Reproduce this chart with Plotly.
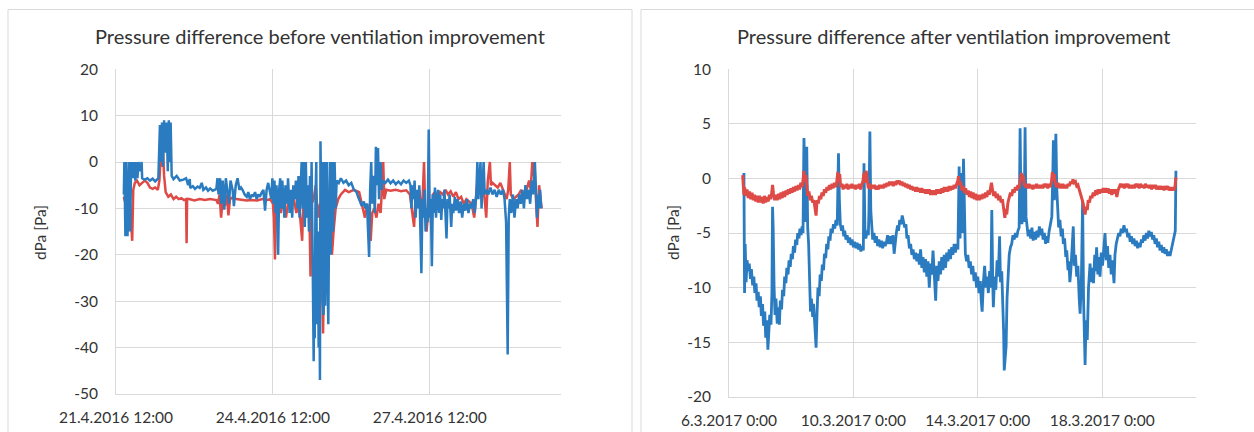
import pandas as pd
import plotly.graph_objects as go

# ---------------- data (days since start of each record, pressure difference in Pa) -------------
left_start = "2016-04-21 12:00"
right_start = "2017-03-06 00:00"

left_blue = [[0.15,-7],[0.16,0],[0.18,-16],[0.20,0],[0.22,-16],[0.24,-5],[0.255,0],[0.27,-15],[0.29,0],[0.32,-3.5],[0.34,0],[0.37,-4],[0.38,0],[0.41,-3.5],[0.43,0],[0.46,-2],[0.49,0],[0.50,-3.5],[0.55,-3.8],[0.60,-3.5],[0.65,-4.0],[0.70,-3.6],[0.75,-4.2],[0.81,-3.5],[0.84,8],[0.86,0],[0.88,8.5],[0.90,-1],[0.92,9],[0.94,2],[0.97,8.5],[0.99,-2],[1.01,9],[1.03,0],[1.045,8.5],[1.065,-3],[1.10,-3.7],[1.16,-3],[1.22,-4],[1.29,-3.8],[1.34,-3.5],[1.38,-5],[1.41,-3.7],[1.42,-5.6],[1.47,-5.2],[1.51,-5.8],[1.56,-5.3],[1.60,-5.6],[1.64,-4.5],[1.67,-6],[1.72,-5.5],[1.76,-6.2],[1.80,-5.7],[1.85,-6.2],[1.92,-5.8],[1.94,-3.5],[1.96,-7],[1.99,-3.5],[2.01,-9],[2.04,-4],[2.07,-10.3],[2.10,-3.5],[2.13,-7],[2.16,-9],[2.19,-4],[2.23,-6],[2.255,-9.5],[2.29,-5],[2.325,-3.5],[2.36,-6],[2.39,-5.5],[2.42,-6],[2.46,-7],[2.50,-7.5],[2.53,-6.5],[2.56,-8],[2.60,-7],[2.62,-7.5],[2.66,-6.5],[2.69,-8],[2.72,-7],[2.75,-7.5],[2.79,-6.5],[2.82,-6],[2.85,-10.5],[2.88,-6],[2.91,-4.5],[2.94,-6],
    [2.97,-8],[2.99,-3.5],[3.01,-9],[3.03,-4],[3.05,-11],[3.07,-5],[3.10,-20],[3.12,-6],[3.14,-3.5],[3.16,-10],[3.18,-4],[3.20,-8],[3.22,-12],[3.24,-5],[3.27,-9],[3.29,-3.5],[3.32,-11],[3.34,-6],[3.37,-12],[3.39,-5],[3.42,-8],[3.44,-4],[3.47,-10],[3.49,-3],[3.51,-12],[3.53,-6],[3.55,0],[3.57,-10],[3.59,0],[3.61,-14],[3.63,0],[3.65,-12],[3.67,-5],[3.69,-15],[3.71,-3],
    [3.73,-12],[3.74,0],[3.76,-20],[3.78,-43],[3.79,-30],[3.80,-38],[3.815,-8],[3.83,0],[3.845,-35],[3.86,-15],[3.875,-40],[3.885,-20],[3.90,-47],[3.91,4.5],[3.925,-10],[3.94,0],[3.955,-30],[3.97,-33],[3.985,0],[4.00,-31],[4.015,-8],[4.03,0],[4.045,-25],[4.06,-35],[4.075,-12],[4.09,0],[4.105,-20],[4.12,-8],[4.135,0],[4.15,-15],[4.165,-6],[4.18,0],[4.20,-10],[4.22,-4],
    [4.26,-4.5],[4.30,-3.5],[4.35,-4.5],[4.40,-4],[4.45,-5],[4.50,-4.5],[4.55,-6],[4.60,-6.5],[4.63,-7.5],[4.67,-8.5],[4.70,-9.5],[4.74,-8.5],[4.77,-10],[4.80,-9],[4.84,-20.5],[4.86,-6],[4.88,0],[4.90,-9],[4.92,-3],[4.95,-11],[4.97,3.3],[4.99,-5],[5.01,3],[5.03,-8],[5.06,0],[5.08,-6],[5.10,-4],[5.15,-4.5],[5.20,-3.8],[5.25,-4.6],[5.30,-4],[5.35,-4.8],[5.40,-4.2],[5.45,-4.8],[5.50,-4],[5.55,-4.5],[5.60,-4],[5.63,-5],
    [5.65,-10],[5.67,-5],[5.69,-8],[5.71,-4],[5.73,-12],[5.75,-6],[5.78,-10],[5.80,-5],[5.82,-13],[5.84,-24],[5.86,-8],[5.88,-12],[5.90,-6],[5.92,-15],[5.94,-10],[5.96,-13],[5.98,7],[6.00,-12],[6.02,-8],[6.04,-22.5],[6.06,-7],[6.08,-11],[6.10,-5.5],[6.12,-12],[6.14,-8],[6.16,-6],[6.18,-11],[6.20,-7],[6.22,-12.5],[6.24,-8],[6.26,-10],[6.28,-6],[6.30,-11],[6.32,-16.5],[6.34,-8],[6.36,-10],[6.38,-7],[6.41,-14],[6.43,-9],[6.45,-11],[6.48,-7.5],[6.50,-10.5],[6.53,-8],[6.56,-11],[6.59,-8.5],[6.62,-12],[6.65,-9],[6.68,-10.5],[6.71,-8],[6.74,-11],[6.77,-9],[6.80,-10],[6.83,-8],[6.86,-11],[6.89,-7],[6.91,0],[6.93,-8],[6.95,-3],[6.97,0],[6.99,-10],[7.01,-4],[7.03,0],[7.05,-7],[7.08,-6],[7.12,-7],[7.16,-5.5],[7.20,-7],[7.24,-6],[7.28,-7.5],[7.32,-6],[7.36,-7],[7.40,-6],[7.43,-8],[7.46,-13],[7.49,-41.5],[7.51,-12],[7.53,-8],[7.56,-11],[7.59,-7],[7.62,-12],[7.65,-8],[7.68,-10],[7.71,-7],[7.74,-9],[7.77,-6],[7.80,-10],[7.83,-5],[7.86,-8],[7.89,-6],[7.92,-9],[7.95,-4],[7.98,-7],[8.01,0],[8.03,-6],[8.05,-12],[8.07,-7],[8.09,-10],[8.11,-6],[8.13,-10]]

left_red = [[0.15,-7.5],[0.17,-8.5],[0.20,-6],[0.23,-10],[0.26,-8],[0.29,-13],[0.31,-17],[0.33,-6],[0.36,-4.5],[0.40,-4],[0.45,-5],[0.50,-4.5],[0.55,-4],[0.60,-4.5],[0.65,-5.5],[0.70,-5.8],[0.75,-5.5],[0.80,-6],[0.83,-4],[0.86,2.3],[0.88,-1],[0.90,2],[0.92,-3],[0.95,-6.5],[1.00,-7.5],[1.05,-7],[1.10,-8],[1.15,-7.5],[1.20,-8],[1.25,-7.8],[1.30,-8.2],[1.34,-8],[1.35,-17.5],[1.36,-8],[1.40,-8],[1.50,-8.3],[1.60,-8],[1.70,-8.2],[1.80,-8],[1.92,-8.2],[1.95,-9],[1.98,-7],[2.01,-12],[2.04,-8],[2.08,-9.5],[2.12,-7],[2.15,-11.5],[2.18,-8],[2.25,-7.5],[2.30,-8],[2.40,-8.2],[2.50,-8.3],[2.60,-8.2],[2.70,-8.3],[2.80,-8],[2.90,-8.2],
    [2.95,-8],[3.00,-9],[3.02,-12],[3.04,-21],[3.06,-9],[3.10,-8],[3.15,-11],[3.20,-8],[3.25,-12],[3.30,-8],[3.35,-10],[3.40,-8],[3.45,-11],[3.50,-9],[3.53,-13],[3.56,-17],[3.58,-9],[3.62,-12],[3.66,-8],[3.70,-12],[3.72,-24.7],[3.74,-9],[3.78,-8],[3.82,-5],[3.86,-12],[3.90,-9],[3.94,-25],[3.96,-37],[3.98,-20],[4.00,-8],[4.03,-3],[4.06,-12],[4.10,-8],[4.13,-20],[4.16,-15],[4.20,-10],[4.25,-8],[4.30,-7],[4.38,-6],[4.45,-6.5],[4.55,-6],[4.65,-6.5],[4.72,-10],[4.76,-12],[4.80,-9],[4.84,-11],[4.87,-17],[4.90,-11],[4.94,-10],[4.98,-12],[5.02,-9],[5.06,-11],[5.09,-5],[5.11,0],[5.13,-8],[5.17,-6],[5.25,-6.2],[5.35,-6],[5.45,-6.3],[5.55,-6.1],[5.62,-7],[5.66,-10],[5.70,-14],[5.73,-7],[5.77,-9],[5.80,-6],[5.84,-12],[5.87,-6],[5.89,0],[5.91,-9],[5.94,-15],[5.97,-10],[6.00,-8],[6.03,-14],[6.06,-7],[6.10,-6.5],[6.15,-8],[6.20,-6.5],[6.25,-7],[6.30,-6],[6.35,-7],[6.40,-6.3],[6.45,-7.5],[6.50,-6.5],[6.55,-8],[6.60,-7.5],[6.65,-9],[6.70,-8],[6.75,-8.5],[6.80,-9],[6.85,-12],[6.88,-8],[6.92,-3],[6.95,-5],[7.00,-3.5],[7.05,-8],[7.08,-12],[7.11,-4],[7.15,0],[7.17,-5],[7.20,-4.5],[7.25,-5],[7.30,-5.5],[7.35,-4.5],[7.40,-6],[7.44,-7],[7.47,-8],[7.50,-6],[7.53,0],[7.55,-7],[7.60,-8],[7.65,-7.5],[7.70,-7],[7.75,-6],[7.80,-7.5],[7.85,-6],[7.90,-4],[7.93,-6],[7.96,0],[7.98,-3],[8.00,0],[8.03,-8],[8.06,-14],[8.09,-5],[8.12,-8],[8.14,-10]]

right_blue = [[0.47,-1],[0.48,0.5],[0.50,-10.5],[0.52,-6],[0.55,-9.5],[0.58,-7.5],[0.62,-8.5],[0.65,-7.8],[0.69,-9.2],[0.72,-8.3],[0.76,-9.8],[0.80,-9.0],[0.83,-10.5],[0.87,-9.6],[0.90,-11.2],[0.94,-10.4],[0.97,-11.8],[1.01,-10.8],[1.04,-12.6],[1.08,-11.5],[1.11,-13.5],[1.15,-12.2],[1.18,-14.6],[1.22,-13.0],[1.25,-15.7],[1.28,-13.5],[1.31,-12.5],[1.35,-13.4],[1.38,-10.5],[1.40,-2.6],[1.42,-4.5],[1.45,-10],[1.48,-12.5],[1.51,-11],[1.55,-13.3],[1.58,-11.8],[1.62,-13.4],[1.65,-11.2],[1.69,-12],[1.72,-10.2],[1.76,-10.8],[1.79,-9.0],[1.83,-9.6],[1.86,-8.2],[1.90,-8.8],[1.93,-7.5],[1.97,-8.1],[2.00,-6.9],[2.04,-7.4],[2.07,-6.2],[2.11,-6.8],[2.14,-5.6],[2.18,-6.1],[2.21,-5.0],[2.25,-5.5],[2.28,-4.6],[2.32,-5.2],[2.35,-4.4],[2.38,-5.0],[2.41,3.7],[2.44,-2],[2.47,-4],[2.50,2.9],[2.53,-4.5],[2.56,-6],[2.59,-10],[2.62,-12.2],[2.65,-11],[2.69,-12.7],[2.72,-11.5],[2.76,-13.5],[2.80,-15.5],[2.83,-12.5],[2.86,-10],[2.90,-10.8],[2.93,-8.8],[2.97,-9.4],[3.00,-7.9],[3.04,-8.4],[3.07,-6.9],[3.11,-7.3],[3.14,-6.0],[3.18,-6.5],[3.21,-5.3],[3.25,-5.7],[3.28,-4.6],[3.32,-5.0],[3.36,-4.2],[3.40,-4.6],[3.44,-3.8],[3.48,-4.3],[3.52,2.3],[3.55,-2],[3.58,-4.2],[3.62,-4.8],[3.65,-4.3],[3.69,-5.3],[3.72,-4.8],[3.76,-5.6],[3.80,-5.2],[3.84,-5.9],[3.88,-5.4],[3.92,-6.1],[3.96,-5.6],[4.00,-6.3],[4.04,-5.8],[4.08,-6.4],[4.12,-5.9],[4.16,-6.5],[4.20,-6.0],[4.24,-6.7],[4.28,-6.2],[4.32,-6.6],[4.34,1.4],[4.37,-4.5],[4.40,-5.5],[4.44,-4.8],[4.48,-5.2],[4.50,-3],[4.53,4.3],[4.56,-3],[4.59,-4.4],[4.62,-5.6],[4.66,-5.0],[4.70,-5.9],[4.74,-5.3],[4.78,-6.2],[4.82,-5.6],[4.86,-6.3],[4.90,-5.7],[4.94,-6.4],[4.98,-5.8],[5.02,-6.2],
    [5.06,-5.9],[5.10,-5.2],[5.14,-6.0],[5.18,-5.3],[5.23,-6.0],[5.27,-5.2],[5.31,-6.9],[5.34,-5.8],[5.38,-5.0],[5.42,-4.3],[5.45,-4.8],[5.49,-3.8],[5.53,-4.2],[5.57,-3.4],[5.61,-3.9],[5.65,-4.5],[5.69,-4.2],[5.72,-5.5],[5.76,-5.2],[5.80,-6.4],[5.84,-6.0],[5.88,-7.0],[5.92,-6.5],[5.96,-7.4],[6.00,-6.8],[6.04,-7.6],[6.08,-6.9],[6.12,-7.9],[6.16,-6.5],[6.20,-8.2],[6.24,-7.2],[6.28,-8.6],[6.32,-7.4],[6.36,-9.0],[6.40,-7.6],[6.44,-10.0],[6.48,-7.8],[6.52,-8.8],[6.56,-6.6],[6.60,-9.0],[6.645,-11.2],[6.68,-8.0],[6.72,-9.4],[6.76,-7.6],[6.80,-8.8],[6.84,-7.2],[6.88,-8.4],[6.92,-7.0],[6.96,-8.2],[7.00,-6.8],[7.04,-7.6],[7.08,-6.5],[7.12,-7.4],[7.16,-6.3],[7.20,-7.0],[7.24,-6.0],[7.28,-6.8],[7.32,-6.0],[7.36,-6.5],[7.40,1.1],[7.43,-5.5],[7.46,0.5],[7.50,-5],[7.54,1.8],[7.57,-5.5],[7.60,-6.9],[7.64,-7.6],[7.68,-7.0],[7.72,-8.2],[7.76,-7.6],[7.80,-8.8],[7.84,-8.0],[7.88,-9.4],[7.92,-8.6],[7.96,-10.0],[8.00,-9.0],[8.04,-10.5],[8.08,-9.4],[8.11,-11.2],[8.14,-12.2],[8.18,-9.5],[8.22,-8.0],[8.26,-10.0],[8.30,-9.0],[8.34,-10.5],[8.38,-8.5],[8.42,-10.0],[8.45,-2.9],[8.48,-9.5],[8.50,-11.8],[8.54,-9.0],[8.58,-10.2],[8.62,-7.5],[8.66,-9.0],[8.70,-5.3],[8.73,-9.5],[8.77,-8.5],[8.80,-10.5],[8.83,-14],[8.85,-17.6],[8.88,-16.5],[8.91,-15.4],[8.94,-11],[8.97,-8.5],[9.01,-7.0],[9.05,-6.3],[9.09,-6.0],[9.13,-5.2],[9.17,-5.6],[9.21,-5.0],[9.25,-5.4],[9.29,-4.8],[9.33,-4.5],[9.36,4.6],[9.39,-3],[9.42,-4.2],[9.46,0],[9.49,-4],[9.52,4.7],[9.55,-3.5],[9.58,-4.6],[9.62,-5.3],[9.66,-4.7],[9.70,-5.5],[9.74,-4.5],[9.78,-5.7],[9.82,-4.9],[9.86,-5.6],[9.90,-4.8],[9.94,-5.4],[9.98,-4.4],[10.02,-5.2],
    [10.06,-4.6],[10.10,-5.6],[10.14,-5.0],[10.18,-6.0],[10.21,-5.3],[10.25,-5.9],[10.29,-4.9],[10.34,-4.1],[10.38,-3.5],[10.41,0],[10.43,3.5],[10.46,-2],[10.49,1],[10.51,4.1],[10.54,-1],[10.56,-2.6],[10.60,-4.5],[10.64,-3.8],[10.68,-5.3],[10.72,-4.6],[10.75,-6.0],[10.79,-5.5],[10.83,-7.2],[10.86,-6.6],[10.90,-8.4],[10.93,-7.6],[10.96,-9.5],[10.99,-8.5],[11.03,-6.5],[11.07,-4.4],[11.10,-8.0],[11.14,-7.0],[11.18,-9.0],[11.22,-8.0],[11.26,-11.0],[11.29,-12.4],[11.33,-9.5],[11.37,-2.0],[11.40,-11.0],[11.43,-15.5],[11.45,-17.1],[11.48,-13.0],[11.52,-14.8],[11.56,-10.0],[11.61,-7.8],[11.64,-9.5],[11.68,-8.2],[11.72,-9.6],[11.76,-7.0],[11.79,-8.5],[11.82,-6.3],[11.86,-8.8],[11.90,-7.2],[11.93,-9.0],[11.97,-6.8],[12.01,-8.0],[12.05,-6.5],[12.09,-5.0],[12.13,-7.5],[12.17,-6.2],[12.21,-8.2],[12.25,-7.0],[12.29,-8.8],[12.33,-7.5],[12.38,-9.6],[12.41,-7.0],[12.45,-6.0],[12.49,-5.6],[12.53,-5.0],[12.57,-5.3],[12.61,-4.6],[12.65,-5.0],[12.70,-4.3],[12.74,-4.9],[12.78,-4.6],[12.82,-5.4],[12.86,-5.0],[12.90,-5.8],[12.94,-5.3],[12.98,-6.0],[13.02,-5.5],[13.06,-6.2],[13.10,-5.7],[13.14,-6.4],[13.18,-5.9],[13.22,-6.3],[13.26,-5.6],[13.30,-5.9],[13.34,-5.2],[13.38,-5.7],[13.42,-5.0],[13.46,-5.5],[13.50,-4.8],[13.54,-5.3],[13.58,-4.9],[13.62,-5.6],[13.66,-5.2],[13.70,-6.0],[13.74,-5.5],[13.78,-6.3],[13.82,-5.8],[13.86,-6.6],[13.90,-6.1],[13.94,-6.8],[13.98,-6.3],[14.02,-6.9],[14.06,-6.5],[14.10,-7.1],[14.14,-6.7],[14.18,-7.1],[14.22,-6.6],[14.26,-6.2],[14.29,-5.8],[14.32,-5.4],[14.35,-4.8],[14.37,0.7]]

right_red = [[0.44,0.3],[0.46,-0.5],[0.48,-1.5],[0.50,-0.8],[0.54,-1.6],[0.58,-1.0],[0.62,-1.8],[0.66,-1.2],[0.70,-1.9],[0.74,-1.3],[0.78,-2.0],[0.82,-1.5],[0.86,-2.1],[0.90,-1.6],[0.94,-2.2],[0.98,-1.6],[1.02,-2.2],[1.06,-1.7],[1.10,-2.3],[1.14,-1.6],[1.18,-2.2],[1.22,-1.7],[1.26,-2.1],[1.30,-1.5],[1.34,-1.9],[1.38,-1.2],[1.40,-0.6],[1.43,-1.4],[1.47,-2.0],[1.51,-1.5],[1.55,-2.0],[1.59,-1.4],[1.63,-1.9],[1.67,-1.3],[1.71,-1.8],[1.75,-1.2],[1.79,-1.7],[1.83,-1.1],[1.87,-1.5],[1.91,-1.0],[1.95,-1.4],[1.99,-0.9],[2.03,-1.3],[2.07,-0.8],[2.11,-1.2],[2.15,-0.7],[2.19,-1.1],[2.23,-0.6],[2.27,-1.0],[2.31,-0.4],[2.35,-0.8],[2.38,-0.2],[2.41,0.7],[2.44,-0.3],[2.47,0.3],[2.50,-0.6],[2.53,-1.6],[2.57,-1.2],[2.61,-2.0],[2.65,-1.6],[2.69,-2.2],[2.73,-2.0],[2.77,-2.6],[2.80,-3.4],[2.83,-2.0],[2.87,-2.3],[2.91,-1.6],[2.95,-1.9],[2.99,-1.3],[3.03,-1.6],[3.07,-1.0],[3.11,-1.3],[3.15,-0.8],[3.19,-1.1],[3.23,-0.6],[3.27,-1.0],[3.31,-0.5],[3.35,-0.9],[3.39,-0.4],[3.43,-0.8],[3.47,-0.2],[3.50,0.6],[3.53,-0.3],[3.56,0.4],[3.59,-0.8],[3.63,-0.5],[3.67,-1.0],[3.71,-0.6],[3.75,-0.9],[3.79,-0.5],[3.83,-1.0],[3.87,-0.6],[3.91,-0.9],[3.95,-0.5],[3.99,-0.9],[4.03,-0.6],[4.07,-1.0],[4.11,-0.6],[4.15,-0.9],[4.19,-0.5],[4.23,-1.0],[4.27,-0.6],[4.31,-0.2],[4.34,0.5],[4.37,-0.4],[4.41,0.7],[4.44,-0.2],[4.48,-0.9],[4.52,-0.5],[4.56,-1.0],[4.60,-0.6],[4.64,-0.9],[4.68,-0.6],[4.72,-1.0],[4.76,-0.7],[4.80,-1.0],[4.84,-0.6],[4.88,-0.9],[4.92,-0.6],[4.96,-0.9],[5.00,-0.5],
    [5.04,-0.8],[5.08,-0.4],[5.12,-0.7],[5.16,-0.3],[5.20,-0.6],[5.24,-0.3],[5.28,-0.7],[5.32,-0.3],[5.36,-0.6],[5.40,-0.2],[5.44,-0.5],[5.48,-0.2],[5.52,-0.6],[5.56,-0.3],[5.60,-0.7],[5.64,-0.4],[5.68,-0.8],[5.72,-0.5],[5.76,-0.9],[5.80,-0.6],[5.84,-1.0],[5.88,-0.7],[5.92,-1.1],[5.96,-0.8],[6.00,-1.2],[6.04,-0.8],[6.08,-1.2],[6.12,-0.9],[6.16,-1.3],[6.20,-0.9],[6.24,-1.3],[6.28,-1.0],[6.32,-1.4],[6.36,-1.0],[6.40,-1.4],[6.44,-1.0],[6.48,-1.5],[6.52,-1.1],[6.56,-1.5],[6.60,-1.1],[6.64,-1.5],[6.68,-1.0],[6.72,-1.4],[6.76,-1.0],[6.80,-1.4],[6.84,-0.9],[6.88,-1.3],[6.92,-0.8],[6.96,-1.2],[7.00,-0.8],[7.04,-1.2],[7.08,-0.7],[7.12,-1.1],[7.16,-0.7],[7.20,-1.0],[7.24,-0.6],[7.28,-0.9],[7.32,-0.5],[7.36,-0.2],[7.38,0.2],[7.41,-0.6],[7.45,-0.3],[7.49,-1.1],[7.53,-0.7],[7.57,-1.3],[7.61,-0.9],[7.65,-1.5],[7.69,-1.1],[7.73,-1.7],[7.77,-1.2],[7.81,-1.8],[7.85,-1.3],[7.89,-1.9],[7.93,-1.4],[7.97,-2.0],[8.01,-1.5],[8.05,-2.0],[8.09,-1.5],[8.13,-1.9],[8.17,-1.4],[8.21,-1.8],[8.25,-1.3],[8.29,-1.7],[8.33,-1.1],[8.37,-1.5],[8.41,-0.9],[8.44,-0.4],[8.47,-1.0],[8.51,-1.6],[8.55,-1.2],[8.59,-1.8],[8.63,-1.4],[8.67,-2.0],[8.71,-1.6],[8.75,-2.2],[8.79,-1.9],[8.83,-2.6],[8.87,-3.6],[8.90,-2.8],[8.93,-3.3],[8.97,-2.2],[9.01,-1.8],[9.05,-1.3],[9.09,-1.6],[9.13,-1.0],[9.17,-1.3],[9.21,-0.8],[9.25,-1.1],[9.29,-0.6],[9.33,-0.9],[9.37,-0.3],[9.40,0.5],[9.43,-0.2],[9.46,0.3],[9.49,-0.5],[9.53,-0.8],[9.57,-0.5],[9.61,-0.9],[9.65,-0.5],[9.69,-0.9],[9.73,-0.6],[9.77,-1.0],[9.81,-0.6],[9.85,-0.9],[9.89,-0.5],[9.93,-0.9],[9.97,-0.6],[10.01,-0.9],
    [10.05,-0.6],[10.09,-0.9],[10.13,-0.5],[10.17,-0.8],[10.21,-0.5],[10.25,-0.9],[10.29,-0.5],[10.33,-0.8],[10.37,-0.3],[10.40,0.6],[10.43,-0.2],[10.46,0.4],[10.50,-0.5],[10.54,-0.8],[10.58,-0.4],[10.62,-0.9],[10.66,-0.5],[10.70,-0.9],[10.74,-0.5],[10.78,-0.9],[10.82,-0.6],[10.86,-0.9],[10.90,-0.5],[10.94,-0.7],[10.98,-0.3],[11.02,-0.5],[11.06,-0.1],[11.10,-0.4],[11.14,-0.3],[11.18,-0.7],[11.22,-0.6],[11.26,-1.0],[11.30,-1.2],[11.34,-1.8],[11.38,-2.2],[11.42,-2.8],[11.45,-3.3],[11.48,-2.6],[11.52,-2.9],[11.55,-2.0],[11.59,-2.2],[11.63,-1.6],[11.67,-1.8],[11.71,-1.3],[11.75,-1.6],[11.79,-1.1],[11.83,-1.5],[11.87,-1.0],[11.91,-1.4],[11.95,-1.0],[11.99,-1.3],[12.03,-0.9],[12.07,-1.3],[12.11,-0.9],[12.15,-1.3],[12.19,-0.9],[12.23,-1.4],[12.27,-1.0],[12.31,-1.5],[12.35,-1.0],[12.39,-1.4],[12.43,-1.0],[12.47,-1.7],[12.51,-1.1],[12.55,-0.8],[12.59,-0.5],[12.63,-0.8],[12.67,-0.5],[12.71,-0.9],[12.75,-0.5],[12.79,-0.8],[12.83,-0.5],[12.87,-0.9],[12.91,-0.6],[12.95,-0.9],[12.99,-0.6],[13.03,-0.9],[13.07,-0.5],[13.11,-0.8],[13.15,-0.5],[13.19,-0.9],[13.23,-0.5],[13.27,-0.8],[13.31,-0.6],[13.35,-0.9],[13.39,-0.5],[13.43,-0.8],[13.47,-0.6],[13.51,-0.9],[13.55,-0.6],[13.59,-1.0],[13.63,-0.6],[13.67,-0.9],[13.71,-0.6],[13.75,-1.0],[13.79,-0.7],[13.83,-1.0],[13.87,-0.7],[13.91,-1.0],[13.95,-0.7],[13.99,-1.1],[14.03,-0.7],[14.07,-1.0],[14.11,-0.7],[14.15,-1.1],[14.19,-0.8],[14.23,-1.1],[14.27,-0.8],[14.31,-1.1],[14.34,-0.8],[14.37,0.1]]

left_tick_days = [0, 3, 6]
left_tick_labels = ["21.4.2016 12:00", "24.4.2016 12:00", "27.4.2016 12:00"]
left_range_days = [0, 8.5]
left_y_ticks = [20, 10, 0, -10, -20, -30, -40, -50]
left_y_labels = ["20", "10", "0", "-10", "-20", "-30", "-40", "-50"]

right_tick_days = [0, 4, 8, 12]
right_tick_labels = ["6.3.2017 0:00", "10.3.2017 0:00", "14.3.2017 0:00", "18.3.2017 0:00"]
right_range_days = [0, 15]
right_y_ticks = [10, 5, 0, -5, -10, -15, -20]
right_y_labels = ["10", "5", "0", "-5", "-10", "-15", "-20"]

titles = ["Pressure difference before ventilation improvement",
          "Pressure difference after ventilation improvement"]
y_title = "dPa [Pa]"

# ---------------- helpers -------------
def to_time(start, days):
    return pd.Timestamp(start) + pd.to_timedelta(days, unit="D")

def series(start, pts):
    return [to_time(start, p[0]) for p in pts], [p[1] for p in pts]

W, H = 1254, 432
BLUE = "#2a7bbf"
RED = "#de4a45"
GRID = "#d9d9d9"
TXT = "#333333"
FONT = "Lato"
LW = 2.5

fig = go.Figure()

# left panel: red under blue
x, y = series(left_start, left_red)
fig.add_trace(go.Scatter(x=x, y=y, mode="lines", line=dict(color=RED, width=LW), xaxis="x", yaxis="y", showlegend=False))
x, y = series(left_start, left_blue)
fig.add_trace(go.Scatter(x=x, y=y, mode="lines", line=dict(color=BLUE, width=LW), xaxis="x", yaxis="y", showlegend=False))
# right panel: blue under red
x, y = series(right_start, right_blue)
fig.add_trace(go.Scatter(x=x, y=y, mode="lines", line=dict(color=BLUE, width=2.8), xaxis="x2", yaxis="y2", showlegend=False))
x, y = series(right_start, right_red)
fig.add_trace(go.Scatter(x=x, y=y, mode="lines", line=dict(color=RED, width=3), xaxis="x2", yaxis="y2", showlegend=False))

def px(v):
    return v / W

def py(v):
    return 1 - v / H

common_x = dict(type="date", showgrid=True, gridcolor=GRID, gridwidth=1, showline=True, linecolor=GRID,
                linewidth=1, ticks="", tickfont=dict(family=FONT, size=15.5, color=TXT), ticklabelstandoff=10,
                zeroline=False, fixedrange=True, automargin=False)
common_y = dict(showgrid=True, gridcolor=GRID, gridwidth=1, showline=True, linecolor=GRID, linewidth=1,
                ticks="", tickfont=dict(family=FONT, size=15.5, color=TXT), ticklabelstandoff=14,
                zeroline=False, fixedrange=True, automargin=False)

fig.update_layout(
    template="none",
    width=W, height=H, margin=dict(l=0, r=0, t=0, b=0, pad=0), autosize=False,
    paper_bgcolor="white", plot_bgcolor="white",
    xaxis=dict(domain=[px(116), px(560.5)], anchor="y",
               range=[to_time(left_start, left_range_days[0]), to_time(left_start, left_range_days[1])],
               tickvals=[to_time(left_start, d) for d in left_tick_days], ticktext=left_tick_labels, **common_x),
    yaxis=dict(domain=[py(393.8), py(69.3)], anchor="x", range=[-50, 20],
               tickvals=left_y_ticks, ticktext=left_y_labels, **common_y),
    xaxis2=dict(domain=[px(729), px(1195.5)], anchor="y2",
                range=[to_time(right_start, right_range_days[0]), to_time(right_start, right_range_days[1])],
                tickvals=[to_time(right_start, d) for d in right_tick_days], ticktext=right_tick_labels, **common_x),
    yaxis2=dict(domain=[py(396.7), py(69.3)], anchor="x2", range=[-20, 10],
                tickvals=right_y_ticks, ticktext=right_y_labels, **common_y),
    shapes=[
        dict(type="rect", xref="paper", yref="paper", x0=px(8), x1=px(632), y0=py(445), y1=py(9.5),
             line=dict(color=GRID, width=1), fillcolor="rgba(0,0,0,0)", layer="below"),
        dict(type="rect", xref="paper", yref="paper", x0=px(641), x1=px(1275), y0=py(445), y1=py(9.5),
             line=dict(color=GRID, width=1), fillcolor="rgba(0,0,0,0)", layer="below"),
    ],
    annotations=[
        dict(text=titles[0], xref="paper", yref="paper", x=px(320), y=py(36), xanchor="center", yanchor="middle",
             showarrow=False, font=dict(family=FONT, size=20, color=TXT)),
        dict(text=titles[1], xref="paper", yref="paper", x=px(953.5), y=py(36), xanchor="center", yanchor="middle",
             showarrow=False, font=dict(family=FONT, size=20, color=TXT)),
        dict(text=y_title, xref="paper", yref="paper", x=px(40), y=py(233), xanchor="center", yanchor="middle",
             textangle=-90, showarrow=False, font=dict(family=FONT, size=15.5, color=TXT)),
        dict(text=y_title, xref="paper", yref="paper", x=px(673), y=py(233), xanchor="center", yanchor="middle",
             textangle=-90, showarrow=False, font=dict(family=FONT, size=15.5, color=TXT)),
    ],
)

fig.write_html("out.html", config={"displayModeBar": False},
               post_script="document.body.style.margin='0';document.body.style.padding='0';")
